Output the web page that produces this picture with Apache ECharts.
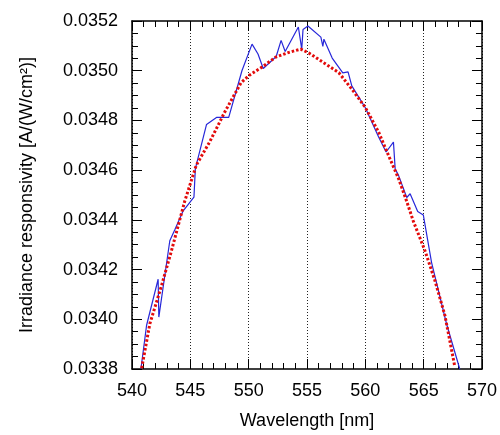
<!DOCTYPE html>
<html>
<head>
<meta charset="utf-8">
<script src="https://cdn.jsdelivr.net/npm/echarts@6/dist/echarts.min.js"></script>
<style>
  html, body { margin: 0; padding: 0; background: #fff; }
  #chart { width: 500px; height: 435px; }
</style>
</head>
<body>
<div id="chart"></div>
<script>
// Measured irradiance responsivity (thin blue trace)
const measWavelength = [540.77, 541.25, 542.24, 542.30, 543.24, 543.66, 544.37, 545.31, 545.43, 546.39,
  547.24, 548.29, 549.43, 550.29, 550.80, 551.25, 552.36, 552.78, 553.13, 554.26,
  554.55, 554.66, 555.08, 556.19, 556.36, 556.45, 557.16, 558.07, 558.52, 558.84,
  560.00, 561.14, 561.78, 562.41, 562.56, 562.84, 563.55, 563.84, 564.49, 564.97,
  565.68, 566.96, 568.10];
const measResponsivity = [0.033802, 0.033976, 0.034161, 0.034009, 0.034316, 0.034359, 0.034435, 0.034491, 0.034606, 0.034784,
  0.034812, 0.034812, 0.035001, 0.035107, 0.035067, 0.035009, 0.035057, 0.035122, 0.035077, 0.035176,
  0.035087, 0.035166, 0.035180, 0.035135, 0.035098, 0.035127, 0.035051, 0.034991, 0.034995, 0.034939,
  0.034851, 0.034733, 0.034673, 0.034713, 0.034604, 0.034580, 0.034490, 0.034505, 0.034434, 0.034420,
  0.034228, 0.033982, 0.033799];

// Fitted responsivity curve (red dotted trace)
const fitWavelength = [540.83, 541.53, 542.53, 543.38, 544.52, 545.51, 546.65, 547.93, 549.35, 550.06,
  551.19, 552.33, 553.47, 554.46, 555.17, 556.02, 557.73, 558.86, 560.00, 561.14,
  561.99, 562.84, 563.55, 564.12, 565.12, 565.97, 566.82, 567.67];
const fitResponsivity = [0.033803, 0.033982, 0.034135, 0.034275, 0.034475, 0.034620, 0.034713, 0.034832, 0.034952, 0.034982,
  0.035016, 0.035055, 0.035074, 0.035087, 0.035071, 0.035045, 0.034992, 0.034925, 0.034852, 0.034753,
  0.034659, 0.034567, 0.034474, 0.034394, 0.034275, 0.034155, 0.034016, 0.033810];

// Axis ranges and tick spacing
const xMin = 540, xMax = 570, xStep = 5;
const yMin = 0.0338, yMax = 0.0352, yStep = 0.0002;
const xTitle = 'Wavelength [nm]';
const yTitle = 'Irradiance responsivity [A/(W/cm\u00B2)]';

const FONT = 'Liberation Sans, Arial, sans-serif';
const pair = (xs, ys) => xs.map((x, i) => [x, ys[i]]);

const frameLine = { show: true, onZero: false, lineStyle: { color: '#000', width: 1.5 } };
const majorTick = { show: true, inside: true, length: 10, lineStyle: { color: '#000', width: 1 } };
const minorTick = { show: true, length: 6, lineStyle: { color: '#000', width: 1 } };

const chart = echarts.init(document.getElementById('chart'), null, { renderer: 'canvas' });
chart.setOption({
  animation: false,
  backgroundColor: '#fff',
  grid: { left: 132, right: 16, top: 21, bottom: 63 },
  xAxis: [
    {
      type: 'value', min: xMin, max: xMax, interval: xStep, position: 'bottom',
      name: xTitle, nameLocation: 'middle', nameGap: 43,
      nameTextStyle: { fontFamily: FONT, fontSize: 18, color: '#000' },
      axisLine: frameLine, axisTick: majorTick,
      minorTick: Object.assign({ splitNumber: 5 }, minorTick),
      axisLabel: { fontFamily: FONT, fontSize: 18, color: '#000', margin: 13 },
      splitLine: { show: true, lineStyle: { color: '#222', width: 1, type: [1, 2] } }
    },
    {
      type: 'value', min: xMin, max: xMax, interval: xStep, position: 'top',
      axisLine: frameLine, axisTick: majorTick,
      minorTick: Object.assign({ splitNumber: 5 }, minorTick),
      axisLabel: { show: false }, splitLine: { show: false }
    }
  ],
  yAxis: [
    {
      type: 'value', min: yMin, max: yMax, interval: yStep, position: 'left',
      name: yTitle, nameLocation: 'middle', nameGap: 96,
      nameTextStyle: { fontFamily: FONT, fontSize: 18, color: '#000' },
      axisLine: frameLine, axisTick: majorTick,
      minorTick: Object.assign({ splitNumber: 4 }, minorTick),
      axisLabel: { fontFamily: FONT, fontSize: 18, color: '#000', margin: 14,
        formatter: v => v.toFixed(4) },
      splitLine: { show: false }
    },
    {
      type: 'value', min: yMin, max: yMax, interval: yStep, position: 'right',
      axisLine: frameLine, axisTick: majorTick,
      minorTick: Object.assign({ splitNumber: 4 }, minorTick),
      axisLabel: { show: false }, splitLine: { show: false }
    }
  ],
  series: [
    {
      name: 'measured', type: 'line', xAxisIndex: 0, yAxisIndex: 0,
      data: pair(measWavelength, measResponsivity),
      showSymbol: false, clip: true, z: 3,
      lineStyle: { color: '#2727d9', width: 1.2 }
    },
    {
      name: 'fit', type: 'line', xAxisIndex: 0, yAxisIndex: 0,
      data: pair(fitWavelength, fitResponsivity),
      showSymbol: false, clip: true, z: 4,
      lineStyle: { color: '#e30b0b', width: 3, type: [2.5, 2] }
    }
  ]
});
</script>
</body>
</html>
